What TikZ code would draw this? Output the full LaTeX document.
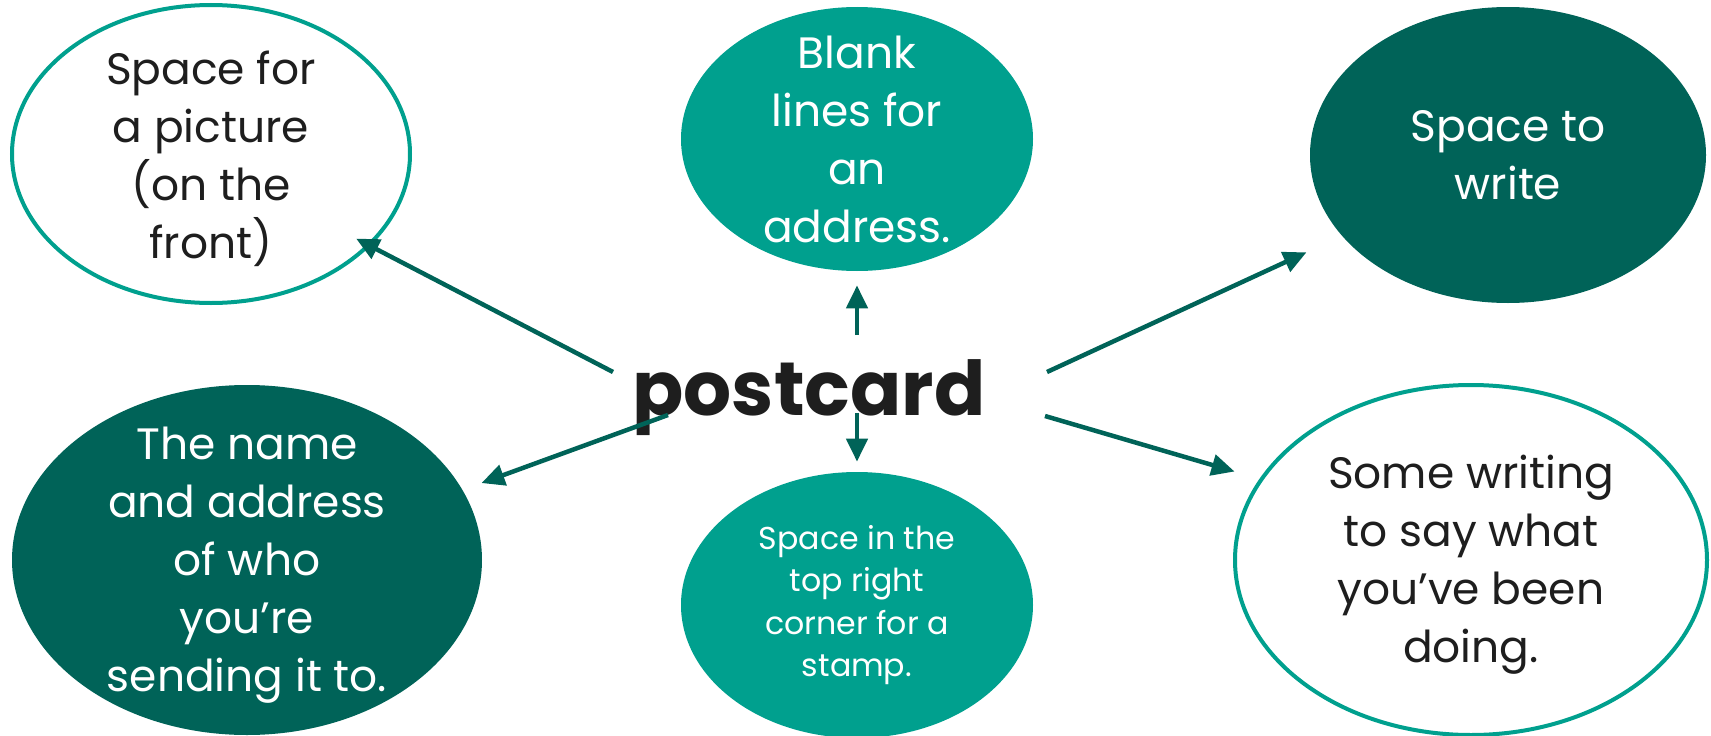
\documentclass[tikz,border=0pt]{standalone}
\usepackage{fontspec}
\setmainfont{Poppins}
\usetikzlibrary{shapes.geometric,arrows.meta}
\definecolor{tealA}{RGB}{0,160,142}
\definecolor{tealB}{RGB}{0,99,88}
\definecolor{ink}{RGB}{30,30,30}

\begin{document}
\begin{tikzpicture}[
    >={Stealth[inset=0pt,length=0.46cm,width=0.42cm]},
    bubble/.style={ellipse, inner sep=0pt},
    open/.style={bubble, draw=tealA, line width=0.08cm, fill=white},
    mid/.style={bubble, fill=tealA},
    deep/.style={bubble, fill=tealB},
    txt/.style={align=center, font=\fontsize{25}{33}\selectfont},
    small/.style={align=center, font=\fontsize{18}{24}\selectfont},
    arr/.style={->, line width=0.09cm, draw=tealB}
]
    \useasboundingbox (0,0) rectangle (34.22,-14.72);

    % bubbles
    \node[open, minimum width=7.96cm, minimum height=5.96cm] (pic) at (4.22,-3.08) {};
    \node[txt, text=ink] (pic-t) at ([yshift=-0.1cm]pic) {Space for\\a picture\\(on the\\front)};

    \node[mid, minimum width=7.04cm, minimum height=5.28cm] (addr) at (17.14,-2.78) {};
    \node[txt, text=white] (addr-t) at (addr) {Blank\\lines for\\an\\address.};

    \node[deep, minimum width=7.92cm, minimum height=5.92cm] (write) at (30.16,-3.10) {};
    \node[txt, text=white] (write-t) at (write) {Space to\\write};

    \node[deep, minimum width=9.4cm, minimum height=7.0cm] (name) at (4.94,-11.2) {};
    \node[txt, text=white] (name-t) at ([yshift=-0.1cm]name) {The name\\and address\\of who\\you’re\\sending it to.};

    \node[mid, minimum width=7.04cm, minimum height=5.32cm] (stamp) at (17.14,-12.1) {};
    \node[small, text=white] (stamp-t) at (stamp) {Space in the\\top right\\corner for a\\stamp.};

    \node[open, minimum width=9.44cm, minimum height=7.0cm] (news) at (29.42,-11.2) {};
    \node[txt, text=ink] (news-t) at ([yshift=-0.1cm]news) {Some writing\\to say what\\you’ve been\\doing.};

    % centre word
    \node[font=\bfseries\fontsize{43}{43}\selectfont, text=ink, anchor=base] (card) at (16.18,-8.30) {postcard};

    \coordinate (s-pic) at (12.26,-7.44);
    \coordinate (s-name) at (13.36,-8.30);
    \coordinate (s-write) at (20.94,-7.44);
    \coordinate (s-news) at (20.90,-8.32);
    \coordinate (s-up) at (17.14,-6.70);
    \coordinate (s-down) at (17.14,-8.26);

    \draw[arr, shorten >=-0.32cm] (s-pic) -- (pic.-30);
    \draw[arr, shorten >=0.4cm] (s-name) -- (name.18.5);
    \draw[arr, shorten >=0.78cm] (s-write) -- (write.206.3);
    \draw[arr, shorten >=0.52cm] (s-news) -- (news.159.55);
    \draw[arr, shorten >=0.28cm] (s-up) -- (addr.south);
    \draw[arr, shorten >=0.2cm] (s-down) -- (stamp.north);
\end{tikzpicture}
\end{document}
